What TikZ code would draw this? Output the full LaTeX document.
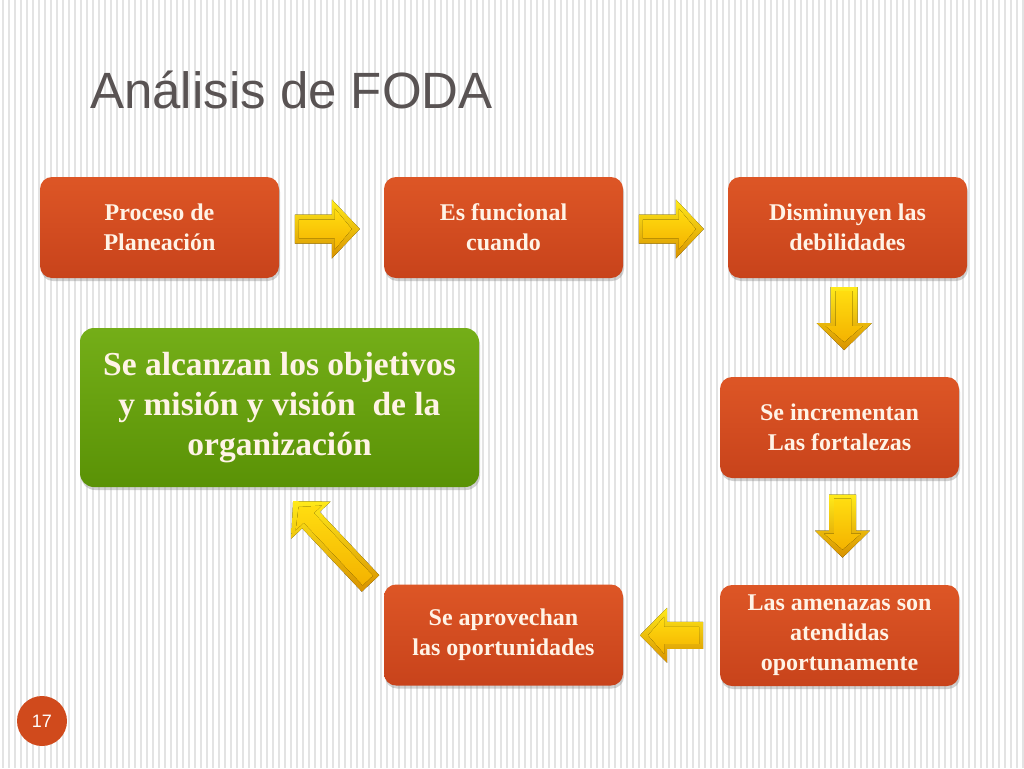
\documentclass[tikz,border=0pt]{standalone}
\usepackage{fontspec}
\setmainfont{Liberation Serif}
\newfontfamily\titlefont{Liberation Sans}
\usetikzlibrary{shadows,calc}
\definecolor{boxtop}{HTML}{DD5626}
\definecolor{boxbot}{HTML}{C8431B}
\definecolor{greentop}{HTML}{74AE18}
\definecolor{greenbot}{HTML}{5A9206}
\definecolor{cream}{HTML}{FFF3E6}
\definecolor{stripe}{HTML}{E3E3E3}
\definecolor{titlegray}{HTML}{595353}
\definecolor{pagered}{HTML}{D04A1C}
\definecolor{arrowlight}{HTML}{FFEA1A}
\definecolor{arrowdark}{HTML}{D89200}
\definecolor{arrowmid}{HTML}{FFDD10}
\definecolor{arrowmidb}{HTML}{F4B200}
\tikzset{
  stepbox/.style={rounded corners=12pt, top color=boxtop, bottom color=boxbot,
    minimum width=239pt, minimum height=101pt, inner sep=0pt, align=center,
    text=cream, font=\fontsize{24}{30}\selectfont\bfseries,
    drop shadow={shadow xshift=1pt, shadow yshift=-3pt, opacity=0.35}},
  goalbox/.style={rounded corners=14pt, top color=greentop, bottom color=greenbot,
    minimum width=399pt, minimum height=159pt, inner sep=0pt, align=center,
    text=cream, font=\fontsize{33.5}{40}\selectfont\bfseries,
    drop shadow={shadow xshift=1pt, shadow yshift=-3pt, opacity=0.35}},
  pics/barrow/.style n args={4}{code={
    \fill[top color=arrowlight, bottom color=arrowdark]
      (-#1/2,-#2) -- (#1/2-#4,-#2) -- (#1/2-#4,-#3) -- (#1/2,0) --
      (#1/2-#4,#3) -- (#1/2-#4,#2) -- (-#1/2,#2) -- cycle;
    \fill[top color=arrowmid, bottom color=arrowmidb]
      (-#1/2+4,-#2+5) -- (#1/2-#4+3,-#2+5) -- (#1/2-#4+3,-#3+9) -- (#1/2-8,0) --
      (#1/2-#4+3,#3-9) -- (#1/2-#4+3,#2-5) -- (-#1/2+4,#2-5) -- cycle;
  }},
}
\begin{document}
\begin{tikzpicture}[x=1pt,y=-1pt]
\useasboundingbox (0,0) rectangle (1024,768);
\fill[white] (0,0) rectangle (1024,768);
\foreach \i in {0,...,170} { \fill[stripe] (\i*6+2,0) rectangle (\i*6+3.6,768); }

\node[anchor=base west, inner sep=0pt, text=titlegray,
  font=\titlefont\fontsize{51}{51}\selectfont] (title) at (90,108) {Análisis de FODA};

\node[stepbox] (b1) at (159.5,227.5) {Proceso de\\Planeación};
\node[stepbox] (b2) at (503.5,227.5) {Es funcional\\cuando};
\node[stepbox] (b3) at (847.5,227.5) {Disminuyen las\\debilidades};
\node[stepbox] (b4) at (839.5,427.5) {Se incrementan\\Las fortalezas};
\node[stepbox] (b5) at (839.5,635.5) {Las amenazas son\\atendidas\\oportunamente};
\node[stepbox] (b6) at (503.5,635) {Se aprovechan\\las oportunidades};
\node[goalbox] (g) at (279.5,407.5) {Se alcanzan los objetivos\\y misión y visión \ de la\\organización};

\pic at ($(b1.east)!0.46!(b2.west)+(0,1.5)$) {barrow={65}{14.5}{29.5}{28}};
\pic at ($(b2.east)!0.46!(b3.west)+(0,1.5)$) {barrow={65}{14.5}{29.5}{28}};
\pic[rotate=-90] at ($(b3.south)!0.41!(b4.north)$) {barrow={63}{13.5}{27.5}{27}};
\pic[rotate=-90] at ($(b4.south)!0.45!(b5.north)+(3,0)$) {barrow={63}{13.5}{27.5}{27}};
\pic[xscale=-1] at ($(b6.east)!0.5!(b5.west)$) {barrow={63}{13.5}{27.5}{27}};
\pic[rotate=133.3] at ($(b6.north west)+(-52,-42)$) {barrow={113}{12}{27}{26}};

\node[circle, fill=pagered, minimum size=50pt, inner sep=0pt, text=white,
  font=\titlefont\fontsize{18}{18}\selectfont] (pg) at (42,721) {17};
\end{tikzpicture}
\end{document}
